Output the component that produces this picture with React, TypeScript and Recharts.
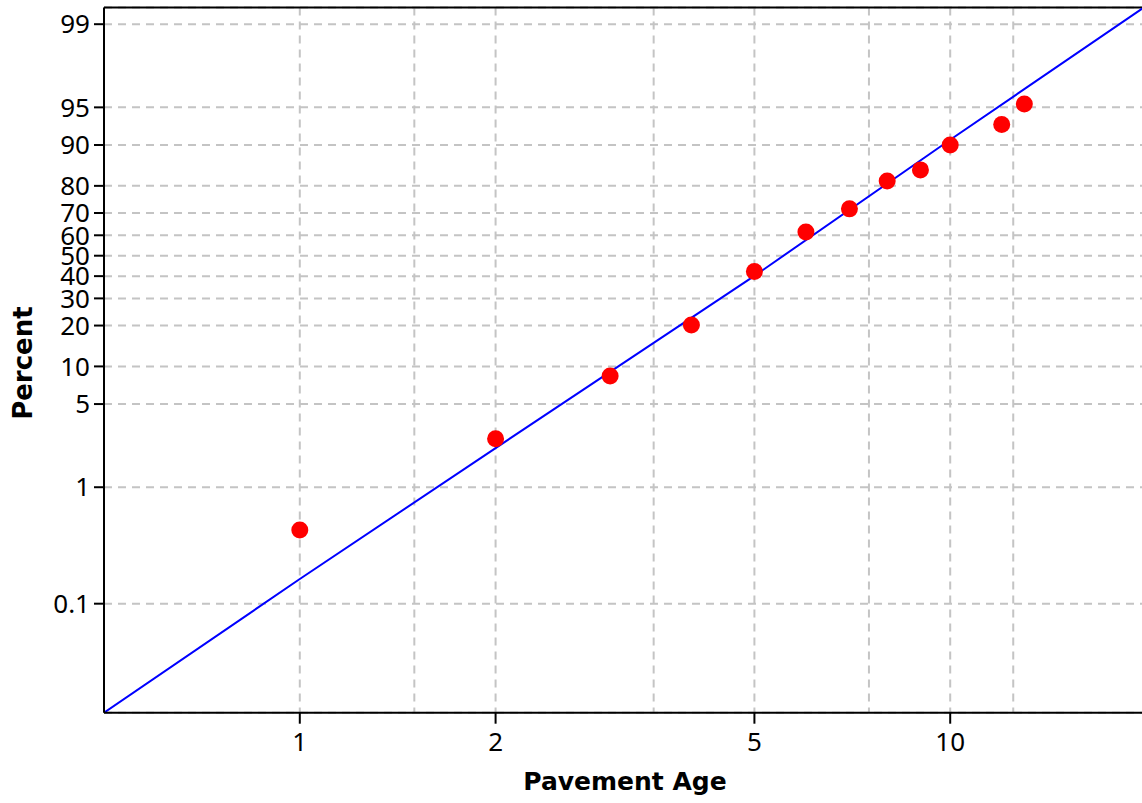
import { ComposedChart, Line, Scatter, XAxis, YAxis, CartesianGrid, ReferenceLine } from 'recharts'

// observed points: age vs. cumulative percent
const ages = [1, 2, 3, 4, 5, 6, 7, 8, 9, 10, 12, 13]
const percents = [0.43, 2.57, 8.4, 20.2, 42.2, 61.6, 71.7, 81.5, 84.6, 90.0, 93.1, 95.3]

// fitted loglogistic line
const fitAges = [0.5, 1, 2, 5, 10, 20]
const fitPercents = [0.0115, 0.163, 2.15, 40.1, 90.9, 99.3]

const xTicks = [1, 2, 5, 10]
const xGridValues = [1, 1.5, 2, 3.5, 5, 7.5, 10, 12.5]
const yTicks = [0.1, 1, 5, 10, 20, 30, 40, 50, 60, 70, 80, 90, 95, 99]
const xDomain = [0.5, 20]
const yDomainPercent = [0.0115, 99.28]

const tickFont = 'Noto Sans'
const titleFont = 'DejaVu Sans'

// probability axis is logistic: plot logit(p)
const logit = (pct: number) => {
    const p = pct / 100
    return Math.log(p / (1 - p))
}

const XTick = ({ x, y, payload }: any) => {
    if (!xTicks.includes(payload.value)) return <g />
    return (
        <g>
            <line x1={x} x2={x} y1={y - 20} y2={y - 9} stroke="#000" strokeWidth={2} />
            <text x={x} y={y} dy="0.71em" textAnchor="middle" fill="#000" fontSize={26} fontFamily={tickFont}>
                {payload.value}
            </text>
        </g>
    )
}

const XTitle = ({ viewBox }: any) => {
    const cx = viewBox ? viewBox.x + viewBox.width / 2 : 625
    return (
        <text x={cx} y={790} textAnchor="middle" fill="#000" fontSize={25} fontWeight="bold" fontFamily={titleFont}>
            Pavement Age
        </text>
    )
}

const YTitle = ({ viewBox }: any) => {
    const cy = viewBox ? viewBox.y + viewBox.height / 2 : 362
    return (
        <text
            x={32}
            y={cy + 3}
            transform={`rotate(-90, 32, ${cy + 3})`}
            textAnchor="middle"
            fill="#000"
            fontSize={26}
            fontWeight="bold"
            fontFamily={titleFont}
        >
            Percent
        </text>
    )
}

const Dot = ({ cx, cy }: any) => <circle cx={cx} cy={cy} r={8.5} fill="#ff0000" />

export default function App() {
    const pointData = ages.map((a, i) => ({ x: a, y: logit(percents[i]) }))
    const fitData = fitAges.map((a, i) => ({ x: a, y: logit(fitPercents[i]) }))
    const yTickValues = yTicks.map(logit)
    const yTop = logit(yDomainPercent[1])

    const formatY = (v: number) => {
        const t = yTicks.find(p => Math.abs(logit(p) - v) < 1e-6)
        return t === undefined ? '' : String(t)
    }

    return (
        <div style={{ position: 'fixed', left: 0, top: 0, width: 1142, height: 803, overflow: 'hidden', background: '#fff' }}>
            <ComposedChart width={1156} height={803} margin={{ top: 7.5, right: 10, bottom: 0, left: 0 }}>
                <CartesianGrid stroke="#c4c4c4" strokeWidth={2} strokeDasharray="8 6" />
                <XAxis
                    type="number"
                    dataKey="x"
                    scale="log"
                    domain={xDomain}
                    allowDataOverflow
                    ticks={xGridValues}
                    interval={0}
                    height={90.3}
                    tickSize={11}
                    tickMargin={9}
                    tickLine={false}
                    axisLine={{ stroke: '#000', strokeWidth: 2 }}
                    tick={<XTick />}
                    label={{ content: <XTitle /> }}
                />
                <YAxis
                    type="number"
                    dataKey="y"
                    domain={[logit(yDomainPercent[0]), yTop]}
                    allowDataOverflow
                    ticks={yTickValues}
                    interval={0}
                    width={104}
                    tickSize={10}
                    tickMargin={4}
                    tickLine={{ stroke: '#000', strokeWidth: 2 }}
                    axisLine={{ stroke: '#000', strokeWidth: 2 }}
                    tick={{ fill: '#000', fontSize: 26, fontFamily: tickFont }}
                    tickFormatter={formatY}
                    label={{ content: <YTitle /> }}
                />
                <ReferenceLine y={yTop} stroke="#000" strokeWidth={2} />
                <Line
                    data={fitData}
                    dataKey="y"
                    type="linear"
                    stroke="#0000ff"
                    strokeWidth={2}
                    dot={false}
                    activeDot={false}
                    isAnimationActive={false}
                />
                <Scatter data={pointData} dataKey="y" shape={<Dot />} isAnimationActive={false} />
            </ComposedChart>
        </div>
    )
}
